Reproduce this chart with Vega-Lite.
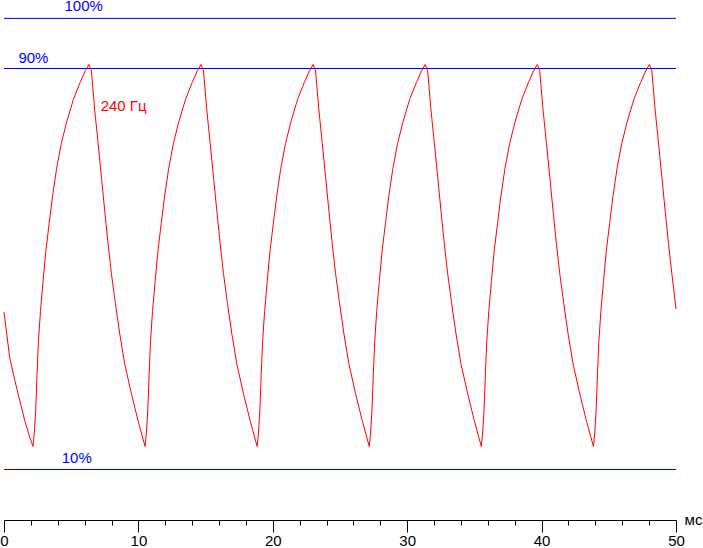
{
  "$schema": "https://vega.github.io/schema/vega-lite/v6.json",
  "width": 672,
  "height": 520,
  "autosize": {"type": "none"},
  "padding": {"left": 4, "top": 0, "right": 27, "bottom": 28},
  "background": "white",
  "config": {
    "view": {"stroke": null},
    "axisX": {
      "values": [0, 2, 4, 6, 8, 10, 12, 14, 16, 18, 20, 22, 24, 26, 28, 30, 32, 34, 36, 38, 40, 42, 44, 46, 48, 50],
      "title": null,
      "grid": false,
      "domainColor": "#000000",
      "domainWidth": 1,
      "tickColor": "#000000",
      "tickWidth": 1,
      "labelFont": "Liberation Sans",
      "labelFontSize": 15,
      "labelColor": "#000000",
      "labelBaseline": "alphabetic",
      "labelFlush": false,
      "labelOverlap": false
    }
  },
  "datasets": {
    "curve": [
      {"t": 0, "v": 41.4}, {"t": 0.42, "v": 32.4}, {"t": 0.8, "v": 27.8}, {"t": 1.17, "v": 23.8}, {"t": 1.54, "v": 19.8}, {"t": 1.91, "v": 16.5},
      {"t": 2.16, "v": 14.6}, {"t": 2.26, "v": 17.5}, {"t": 2.36, "v": 22}, {"t": 2.46, "v": 29}, {"t": 2.56, "v": 35.5}, {"t": 2.71, "v": 41.5}, {"t": 2.91, "v": 47.7}, {"t": 3.11, "v": 53.5}, {"t": 3.36, "v": 59.1}, {"t": 3.61, "v": 64.5}, {"t": 3.91, "v": 70}, {"t": 4.26, "v": 75}, {"t": 4.66, "v": 79.3}, {"t": 5.16, "v": 83.8}, {"t": 5.66, "v": 87.2}, {"t": 6.06, "v": 89.6}, {"t": 6.32, "v": 90.8},
      {"t": 6.5, "v": 89.6}, {"t": 6.75, "v": 81.7}, {"t": 7.0, "v": 75.1}, {"t": 7.25, "v": 68.3}, {"t": 7.49, "v": 61.7}, {"t": 7.74, "v": 55.1}, {"t": 7.99, "v": 49.1}, {"t": 8.29, "v": 43.1}, {"t": 8.61, "v": 37.1}, {"t": 8.98, "v": 31.1}, {"t": 9.48, "v": 25.1}, {"t": 9.97, "v": 19.8}, {"t": 10.3, "v": 16.5},
      {"t": 10.5, "v": 14.6}, {"t": 10.6, "v": 17.5}, {"t": 10.7, "v": 22}, {"t": 10.8, "v": 29}, {"t": 10.9, "v": 35.5}, {"t": 11.05, "v": 41.5}, {"t": 11.25, "v": 47.7}, {"t": 11.45, "v": 53.5}, {"t": 11.7, "v": 59.1}, {"t": 11.95, "v": 64.5}, {"t": 12.25, "v": 70}, {"t": 12.6, "v": 75}, {"t": 13.0, "v": 79.3}, {"t": 13.5, "v": 83.8}, {"t": 14.0, "v": 87.2}, {"t": 14.4, "v": 89.6}, {"t": 14.66, "v": 90.8},
      {"t": 14.84, "v": 89.6}, {"t": 15.09, "v": 81.7}, {"t": 15.34, "v": 75.1}, {"t": 15.59, "v": 68.3}, {"t": 15.83, "v": 61.7}, {"t": 16.08, "v": 55.1}, {"t": 16.33, "v": 49.1}, {"t": 16.63, "v": 43.1}, {"t": 16.95, "v": 37.1}, {"t": 17.32, "v": 31.1}, {"t": 17.82, "v": 25.1}, {"t": 18.31, "v": 19.8}, {"t": 18.64, "v": 16.5},
      {"t": 18.84, "v": 14.6}, {"t": 18.94, "v": 17.5}, {"t": 19.04, "v": 22}, {"t": 19.14, "v": 29}, {"t": 19.24, "v": 35.5}, {"t": 19.39, "v": 41.5}, {"t": 19.59, "v": 47.7}, {"t": 19.79, "v": 53.5}, {"t": 20.04, "v": 59.1}, {"t": 20.29, "v": 64.5}, {"t": 20.59, "v": 70}, {"t": 20.94, "v": 75}, {"t": 21.34, "v": 79.3}, {"t": 21.84, "v": 83.8}, {"t": 22.34, "v": 87.2}, {"t": 22.74, "v": 89.6}, {"t": 23.0, "v": 90.8},
      {"t": 23.18, "v": 89.6}, {"t": 23.43, "v": 81.7}, {"t": 23.68, "v": 75.1}, {"t": 23.93, "v": 68.3}, {"t": 24.17, "v": 61.7}, {"t": 24.42, "v": 55.1}, {"t": 24.67, "v": 49.1}, {"t": 24.97, "v": 43.1}, {"t": 25.29, "v": 37.1}, {"t": 25.66, "v": 31.1}, {"t": 26.16, "v": 25.1}, {"t": 26.65, "v": 19.8}, {"t": 26.98, "v": 16.5},
      {"t": 27.18, "v": 14.6}, {"t": 27.28, "v": 17.5}, {"t": 27.38, "v": 22}, {"t": 27.48, "v": 29}, {"t": 27.58, "v": 35.5}, {"t": 27.73, "v": 41.5}, {"t": 27.93, "v": 47.7}, {"t": 28.13, "v": 53.5}, {"t": 28.38, "v": 59.1}, {"t": 28.63, "v": 64.5}, {"t": 28.93, "v": 70}, {"t": 29.28, "v": 75}, {"t": 29.68, "v": 79.3}, {"t": 30.18, "v": 83.8}, {"t": 30.68, "v": 87.2}, {"t": 31.08, "v": 89.6}, {"t": 31.34, "v": 90.8},
      {"t": 31.52, "v": 89.6}, {"t": 31.77, "v": 81.7}, {"t": 32.02, "v": 75.1}, {"t": 32.27, "v": 68.3}, {"t": 32.51, "v": 61.7}, {"t": 32.76, "v": 55.1}, {"t": 33.01, "v": 49.1}, {"t": 33.31, "v": 43.1}, {"t": 33.63, "v": 37.1}, {"t": 34.0, "v": 31.1}, {"t": 34.5, "v": 25.1}, {"t": 34.99, "v": 19.8}, {"t": 35.32, "v": 16.5},
      {"t": 35.52, "v": 14.6}, {"t": 35.62, "v": 17.5}, {"t": 35.72, "v": 22}, {"t": 35.82, "v": 29}, {"t": 35.92, "v": 35.5}, {"t": 36.07, "v": 41.5}, {"t": 36.27, "v": 47.7}, {"t": 36.47, "v": 53.5}, {"t": 36.72, "v": 59.1}, {"t": 36.97, "v": 64.5}, {"t": 37.27, "v": 70}, {"t": 37.62, "v": 75}, {"t": 38.02, "v": 79.3}, {"t": 38.52, "v": 83.8}, {"t": 39.02, "v": 87.2}, {"t": 39.42, "v": 89.6}, {"t": 39.68, "v": 90.8},
      {"t": 39.86, "v": 89.6}, {"t": 40.11, "v": 81.7}, {"t": 40.36, "v": 75.1}, {"t": 40.61, "v": 68.3}, {"t": 40.85, "v": 61.7}, {"t": 41.1, "v": 55.1}, {"t": 41.35, "v": 49.1}, {"t": 41.65, "v": 43.1}, {"t": 41.97, "v": 37.1}, {"t": 42.34, "v": 31.1}, {"t": 42.84, "v": 25.1}, {"t": 43.33, "v": 19.8}, {"t": 43.66, "v": 16.5},
      {"t": 43.86, "v": 14.6}, {"t": 43.96, "v": 17.5}, {"t": 44.06, "v": 22}, {"t": 44.16, "v": 29}, {"t": 44.26, "v": 35.5}, {"t": 44.41, "v": 41.5}, {"t": 44.61, "v": 47.7}, {"t": 44.81, "v": 53.5}, {"t": 45.06, "v": 59.1}, {"t": 45.31, "v": 64.5}, {"t": 45.61, "v": 70}, {"t": 45.96, "v": 75}, {"t": 46.36, "v": 79.3}, {"t": 46.86, "v": 83.8}, {"t": 47.36, "v": 87.2}, {"t": 47.76, "v": 89.6}, {"t": 48.02, "v": 90.8},
      {"t": 48.2, "v": 89.6}, {"t": 48.45, "v": 81.7}, {"t": 48.7, "v": 75.1}, {"t": 48.95, "v": 68.3}, {"t": 49.19, "v": 61.7}, {"t": 49.44, "v": 55.1}, {"t": 49.69, "v": 49.1}, {"t": 50.0, "v": 42.0}
    ],
    "levels": [{"v": 100}, {"v": 90}, {"v": 10}],
    "labels": [
      {"t": 5.93, "v": 101.47, "label": "100%", "kind": "level"},
      {"t": 2.19, "v": 91.04, "label": "90%", "kind": "level"},
      {"t": 5.41, "v": 11.36, "label": "10%", "kind": "level"},
      {"t": 8.9, "v": 81.52, "label": "240 Гц", "kind": "series"},
      {"t": 51.3, "v": -1.07, "label": "мс", "kind": "unit"}
    ]
  },
  "encoding": {
    "y": {"field": "v", "type": "quantitative", "scale": {"domain": [-0.075, 103.666], "nice": false, "zero": false}, "axis": null}
  },
  "layer": [
    {
      "data": {"name": "levels"},
      "mark": {"type": "rule", "color": "#0000ff", "strokeWidth": 1}
    },
    {
      "data": {"name": "curve"},
      "mark": {"type": "line", "color": "#ff0000", "strokeWidth": 1, "interpolate": "linear"},
      "encoding": {
        "x": {
          "field": "t", "type": "quantitative",
          "scale": {"domain": [0, 50], "nice": false, "zero": false},
          "axis": {
            "tickSize": {"condition": {"test": "datum.value % 10 === 0", "value": 12}, "value": 5},
            "labelExpr": "datum.value % 10 === 0 ? datum.label : ''",
            "labelPadding": 13
          }
        }
      }
    },
    {
      "data": {"name": "labels"},
      "mark": {"type": "text", "font": "Liberation Sans", "fontSize": 15, "baseline": "alphabetic", "align": "center"},
      "encoding": {
        "x": {
          "field": "t", "type": "quantitative",
          "axis": {
            "tickSize": {"condition": {"test": "datum.value % 10 === 0", "value": 12}, "value": 5},
            "labelExpr": "datum.value % 10 === 0 ? datum.label : ''",
            "labelPadding": 13
          }
        },
        "text": {"field": "label"},
        "color": {"field": "kind", "type": "nominal", "scale": {"domain": ["level", "series", "unit"], "range": ["#0000ff", "#ff0000", "#000000"]}, "legend": null}
      }
    }
  ]
}
